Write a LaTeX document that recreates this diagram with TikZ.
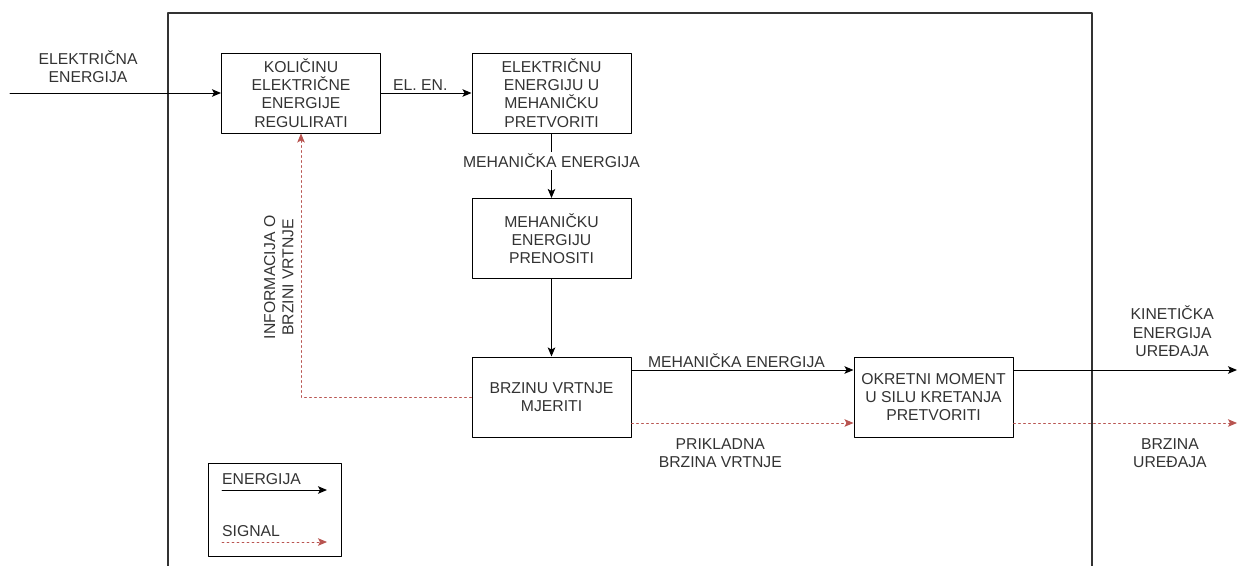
\documentclass[tikz,border=0pt]{standalone}
\usepackage{fontspec}
\setmainfont{Liberation Sans}
\usetikzlibrary{arrows.meta}
\definecolor{signalred}{HTML}{B85450}
\definecolor{textgray}{HTML}{333333}

\begin{document}
\begin{tikzpicture}[x=1pt, y=-1pt, line cap=round, line join=round,
    >={Stealth[length=9pt,width=7.5pt,inset=2pt]}, font=\fontsize{15.75}{18.3}\selectfont]
	\tikzset{
		funkcija/.style={draw, line width=1pt, minimum width=159pt, minimum height=80pt, inner sep=0pt, align=center, text=textgray},
		energija/.style={->, line width=1pt},
		signal/.style={->, line width=0.8pt, signalred, dash pattern=on 2pt off 3pt},
		oznaka/.style={align=center, text=textgray, inner sep=2pt}
	}
	\useasboundingbox (0,0) rectangle (1239,565);
	% granica sustava
	\draw[line width=2.2pt, black!80, line cap=butt] (168,570) -- (168,13) -- (1092,13) -- (1092,570);
	% funkcije
	\node[funkcija] (regul) at (301,93) {KOLIČINU\\ELEKTRIČNE\\ENERGIJE\\REGULIRATI};
	\node[funkcija] (pretv) at (551.5,93) {ELEKTRIČNU\\ENERGIJU U\\MEHANIČKU\\PRETVORITI};
	\node[funkcija] (preno) at (551.5,238.5) {MEHANIČKU\\ENERGIJU\\PRENOSITI};
	\node[funkcija] (mjer) at (551.5,397) {BRZINU VRTNJE\\MJERITI};
	\node[funkcija] (okret) at (933.5,397) {OKRETNI MOMENT\\U SILU KRETANJA\\PRETVORITI};
	% ulazi i izlazi
	\coordinate (ulaz) at (10,93);
	\coordinate (kinizlaz) at (1237,370);
	\coordinate (brzizlaz) at (1237,423);
	% tok energije
	\draw[energija] (ulaz) -- (regul.west) node[oznaka, above, pos=0.37, yshift=8pt]{ELEKTRIČNA\\ENERGIJA};
	\draw[energija] (regul.east) -- (pretv.west) node[oznaka, above, midway, xshift=-6pt]{EL. EN.};
	\draw[energija] (pretv.south) -- (preno.north) node[oznaka, fill=white, pos=0.42]{MEHANIČKA ENERGIJA};
	\draw[energija] (preno.south) -- (mjer.north);
	\draw[energija] ([yshift=27pt]mjer.east) -- ([yshift=27pt]okret.west) node[oznaka, above, midway, xshift=-6pt]{MEHANIČKA ENERGIJA};
	\draw[energija] ([yshift=27pt]okret.east) -- (kinizlaz) node[oznaka, above, pos=0.71, yshift=11pt]{KINETIČKA\\ENERGIJA\\UREĐAJA};
	% tok signala
	\draw[signal] ([yshift=-26pt]mjer.east) -- ([yshift=-26pt]okret.west) node[oznaka, below, pos=0.4, yshift=-13pt]{PRIKLADNA\\BRZINA VRTNJE};
	\draw[signal] ([yshift=-26pt]okret.east) -- (brzizlaz) node[oznaka, below, pos=0.7, yshift=-13pt]{BRZINA\\UREĐAJA};
	\draw[signal] (mjer.west) -| (regul.south) node[oznaka, rotate=90, anchor=south, inner sep=7pt, pos=0.727]{INFORMACIJA O\\BRZINI VRTNJE};
	% legenda
	\node[draw, line width=1pt, minimum width=133pt, minimum height=93pt] (legenda) at (274.5,509.5) {};
	\node[oznaka, anchor=west] (lenerg) at (220,479) {ENERGIJA};
	\node[oznaka, anchor=west] (lsign) at (220,531) {SIGNAL};
	\coordinate (le1) at (222,490);
	\coordinate (le2) at (327,490);
	\coordinate (ls1) at (222,542);
	\coordinate (ls2) at (327,542);
	\draw[energija] (le1) -- (le2);
	\draw[signal] (ls1) -- (ls2);
\end{tikzpicture}
\end{document}
